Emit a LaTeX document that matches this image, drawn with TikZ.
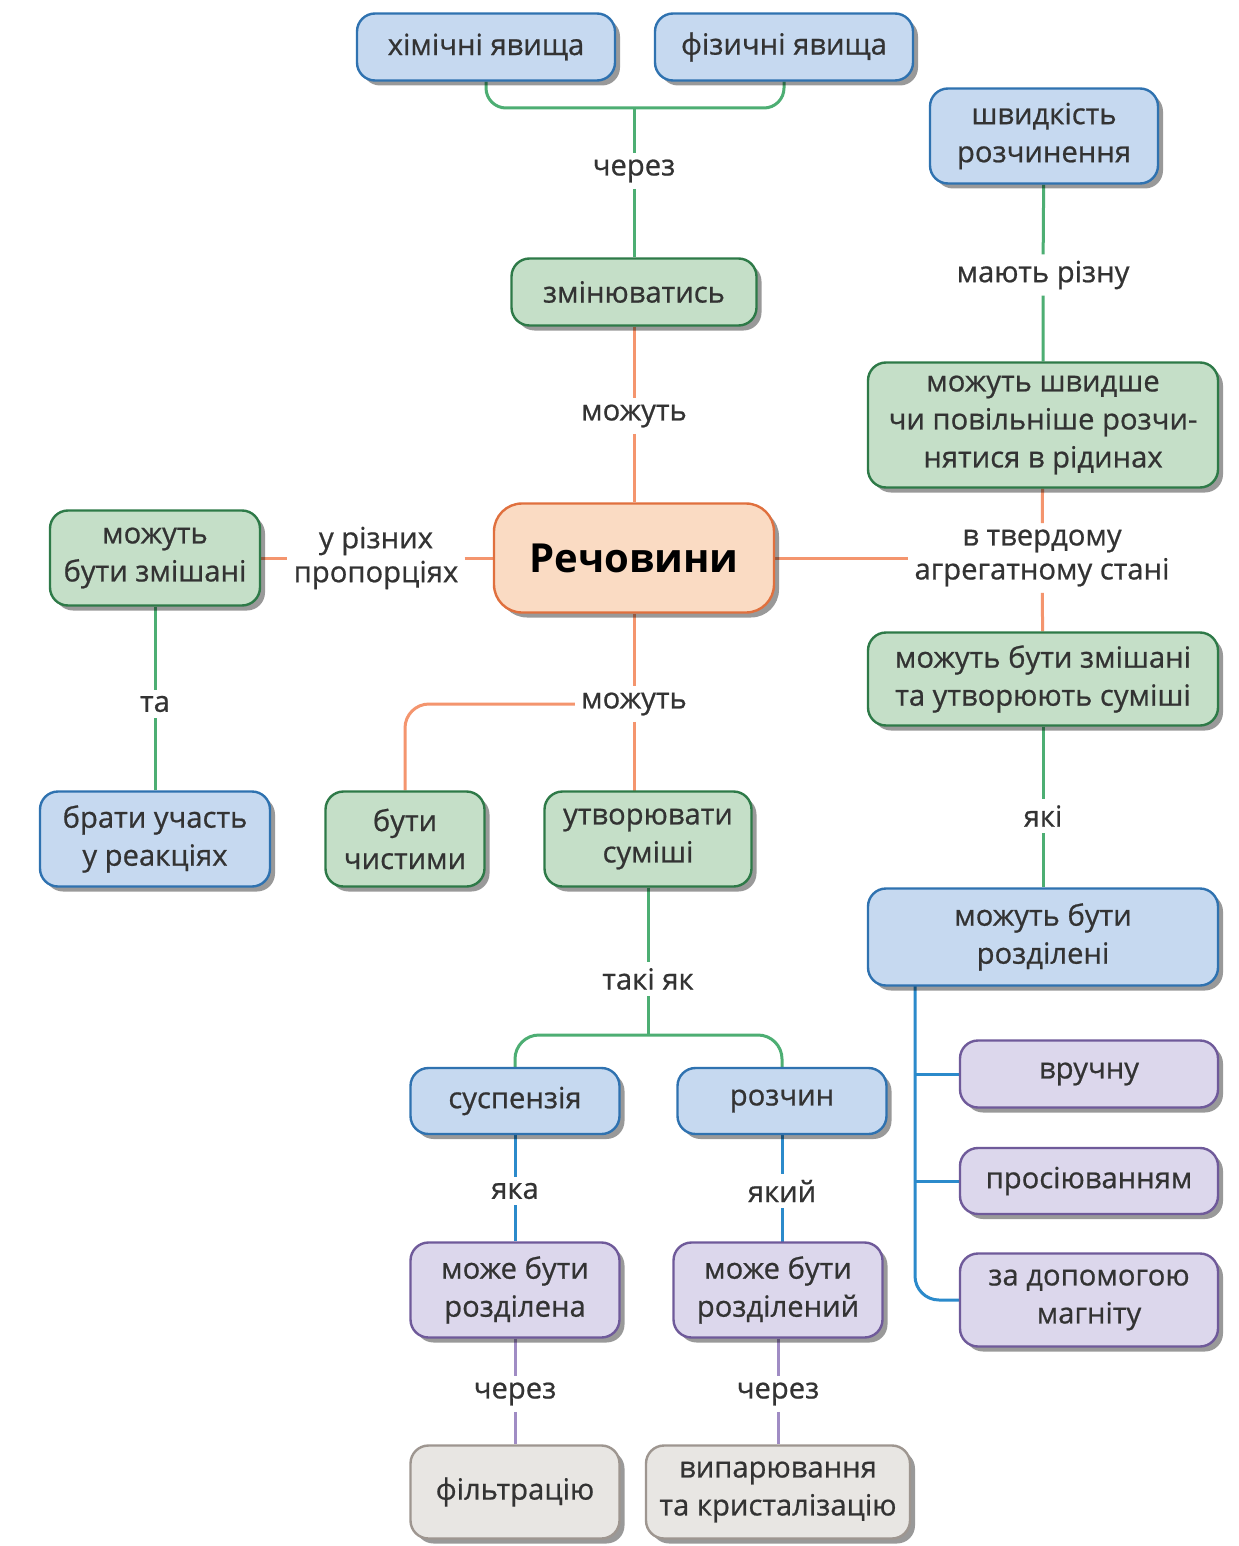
\documentclass[tikz,border=0pt]{standalone}
\usepackage{fontspec}
\setmainfont{Open Sans}
\newfontfamily\semifont[FakeBold=0.7]{Open Sans}
\usetikzlibrary{shadows,backgrounds}
\definecolor{txt}{HTML}{333333}
\definecolor{bfill}{HTML}{C6D9F0}
\definecolor{bdraw}{HTML}{2F72B0}
\definecolor{gfill}{HTML}{C5DFC8}
\definecolor{gdraw}{HTML}{2E7A48}
\definecolor{pfill}{HTML}{DCD7EC}
\definecolor{pdraw}{HTML}{6F5A9A}
\definecolor{grfill}{HTML}{E8E6E3}
\definecolor{grdraw}{HTML}{9E9690}
\definecolor{rfill}{HTML}{FADBC3}
\definecolor{rdraw}{HTML}{E0703E}
\definecolor{lgreen}{HTML}{4DAE73}
\definecolor{lorange}{HTML}{F4956E}
\definecolor{lblue}{HTML}{2B8ACB}
\definecolor{lpurple}{HTML}{A08CC4}
\begin{document}
\begin{tikzpicture}[x=0.5pt,y=-0.5pt,
  box/.style={draw, rounded corners=9pt, line width=1.2pt, align=center, text=txt,
    font=\semifont\fontsize{14.6}{19}\selectfont, inner sep=2pt,
    drop shadow={shadow xshift=2.5pt, shadow yshift=-2.5pt, fill=black, opacity=0.4}},
  sz/.style 2 args={minimum width=#1*0.5pt, minimum height=#2*0.5pt},
  bluebox/.style={box, fill=bfill, draw=bdraw},
  greenbox/.style={box, fill=gfill, draw=gdraw},
  purplebox/.style={box, fill=pfill, draw=pdraw},
  graybox/.style={box, fill=grfill, draw=grdraw},
  rechbox/.style={box, fill=rfill, draw=rdraw, rounded corners=14pt, text=black,
    font=\fontsize{20}{24}\selectfont\bfseries},
  lab/.style={fill=white, text=txt, font=\semifont\fontsize{14.6}{17}\selectfont, inner sep=3pt, align=center},
  conn/.style={line width=1.5pt},
]
\useasboundingbox (0,0) rectangle (1238,1546);

\node[bluebox, sz={258}{67}] (chem) at (486,47) {хімічні явища};
\node[bluebox, sz={258}{67}] (phys) at (784,47) {фізичні явища};
\node[lab] (l1) at (634,171) {через};
\node[greenbox, sz={245}{67}] (zmin) at (634,292) {змінюватись};
\node[lab] (l2) at (634,416) {можуть};
\node[rechbox, sz={280}{109}] (rech) at (634,558) {Речовини};
\node[greenbox, sz={210}{95}] (zmish) at (155,558) {можуть\\бути змішані};
\node[lab] (l3) at (376,558) {у різних\\пропорціях};
\node[lab] (l4) at (1042,558) {в твердому\\агрегатному стані};
\node[bluebox, sz={228}{95}] (shv) at (1044,136) {швидкість\\розчинення};
\node[lab] (l5) at (1043,275) {мають різну};
\node[greenbox, sz={350}{125}] (povil) at (1043,425) {можуть швидше\\чи повільніше розчи-\\нятися в рідинах};
\node[greenbox, sz={350}{93}] (sumtv) at (1043,679) {можуть бути змішані\\та утворюють суміші};
\node[lab] (l6) at (1043,816) {які};
\node[bluebox, sz={350}{97}] (rozd) at (1043,937) {можуть бути\\розділені};
\node[purplebox, sz={258}{67}] (vruch) at (1089,1074) {вручну};
\node[purplebox, sz={258}{66}] (pros) at (1089,1181) {просіюванням};
\node[purplebox, sz={258}{93}] (magn) at (1089,1300) {за допомогою\\магніту};
\node[lab] (l7) at (634,704) {можуть};
\node[greenbox, sz={159}{95}] (chyst) at (405,839) {бути\\чистими};
\node[greenbox, sz={207}{95}] (utv) at (648,839) {утворювати\\суміші};
\node[lab] (l8) at (155,704) {та};
\node[bluebox, sz={230}{95}] (brat) at (155,839) {брати участь\\у реакціях};
\node[lab] (l9) at (648,979) {такі як};
\node[bluebox, sz={209}{66}] (susp) at (515,1101) {суспензія};
\node[bluebox, sz={209}{66}] (rozch) at (782,1101) {розчин};
\node[lab] (l10) at (515,1191) {яка};
\node[lab] (l11) at (782,1191) {який};
\node[purplebox, sz={209}{95}] (rozdA) at (515,1290) {може бути\\розділена};
\node[purplebox, sz={209}{95}] (rozdB) at (778,1290) {може бути\\розділений};
\node[lab] (l12) at (515,1394) {через};
\node[lab] (l13) at (778,1394) {через};
\node[graybox, sz={209}{93}] (filt) at (515,1492) {фільтрацію};
\node[graybox, sz={264}{93}] (vyp) at (778,1492) {випарювання\\та кристалізацію};

\coordinate (j1) at (634,108);
\coordinate (j2) at (648,1035);
\coordinate (b0) at (915,960);

\begin{scope}[on background layer]
  \fill[white] (0,0) rectangle (1238,1546);
  \draw[conn, lgreen, rounded corners=10pt] (chem) |- (j1) -| (phys);
  \draw[conn, lgreen] (j1) -- (l1) -- (zmin);
  \draw[conn, lorange] (zmin) -- (l2) -- (rech);
  \draw[conn, lorange] (zmish) -- (l3) -- (rech);
  \draw[conn, lorange] (rech) -- (l4);
  \draw[conn, lorange] (povil) -- (l4) -- (sumtv);
  \draw[conn, lgreen] (shv) -- (l5) -- (povil);
  \draw[conn, lgreen] (sumtv) -- (l6) -- (rozd);
  \draw[conn, lblue, rounded corners=12pt] (b0) |- (magn);
  \draw[conn, lblue] (b0 |- vruch) -- (vruch);
  \draw[conn, lblue] (b0 |- pros) -- (pros);
  \draw[conn, lorange] (rech) -- (l7) -- (l7 |- utv);
  \draw[conn, lorange, rounded corners=12pt] (l7) -| (chyst);
  \draw[conn, lgreen] (zmish) -- (l8) -- (brat);
  \draw[conn, lgreen] (utv) -- (l9) -- (j2);
  \draw[conn, lgreen, rounded corners=12pt] (susp) |- (j2) -| (rozch);
  \draw[conn, lblue] (susp) -- (l10) -- (rozdA);
  \draw[conn, lblue] (rozch) -- (l11) -- (rozch |- rozdB);
  \draw[conn, lpurple] (rozdA) -- (l12) -- (filt);
  \draw[conn, lpurple] (rozdB) -- (l13) -- (vyp);
\end{scope}
\end{tikzpicture}
\end{document}
